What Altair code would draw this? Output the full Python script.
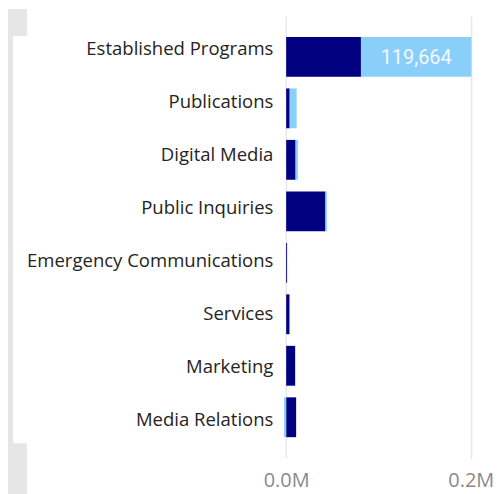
import altair as alt
import pandas as pd

categories = ["Established Programs", "Publications", "Digital Media", "Public Inquiries",
              "Emergency Communications", "Services", "Marketing", "Media Relations"]
series_a = [81000, 3800, 10200, 42500, 900, 3700, 9700, 10800]
series_b = [119664, 7500, 2500, 1600, 300, 400, 300, -2300]
series_names = ["Series A", "Series B"]
tick_values = [0, 200000]

rows = []
for i, c in enumerate(categories):
    rows.append({"category": c, "series": series_names[0], "order": 0, "value": series_a[i]})
    rows.append({"category": c, "series": series_names[1], "order": 1, "value": series_b[i]})
df = pd.DataFrame(rows)

labels_df = pd.DataFrame({"category": categories, "a": series_a, "b": series_b})

x_scale = alt.Scale(domain=[-2500, 201400], nice=False, zero=False)
bar_y_scale = alt.Scale(paddingInner=0.226, paddingOuter=0.407)

bars = alt.Chart(df).mark_bar(size=40).encode(
    x=alt.X("value:Q", stack="zero", scale=x_scale,
            axis=alt.Axis(title=None, values=tick_values, domain=False, ticks=False,
                          grid=True, gridColor="#e8e8e8", gridWidth=1.5,
                          labelExpr="format(datum.value/1e6, '.1f') + 'M'",
                          labelFont="Open Sans", labelFontSize=20, labelColor="#8a8a8a",
                          labelBaseline="alphabetic", labelPadding=28)),
    y=alt.Y("category:N", sort=categories, scale=bar_y_scale, axis=None),
    color=alt.Color("series:N", scale=alt.Scale(domain=series_names, range=["#000080", "#89CFFA"]),
                    legend=None),
    order=alt.Order("order:Q"),
)

text = alt.Chart(labels_df).transform_filter(
    alt.datum.b > 50000
).transform_calculate(
    mid="datum.a + datum.b / 2"
).mark_text(font="Roboto", fontSize=20, color="#f4f8ff", baseline="middle", align="center", dy=1).encode(
    x=alt.X("mid:Q", scale=x_scale),
    y=alt.Y("category:N", sort=categories, scale=bar_y_scale, axis=None),
    text=alt.Text("b:Q", format=","),
)

data_layers = alt.layer(bars, text)

label_axis = alt.Chart(labels_df).mark_point(opacity=0).encode(
    x=alt.value(0),
    y=alt.Y("category:N", sort=categories,
            scale=alt.Scale(type="point", padding=0.678, align=0.458),
            axis=alt.Axis(title=None, orient="left", domain=False, ticks=False, grid=False,
                          labelFont="Open Sans", labelFontSize=18.6, labelColor="#252423",
                          labelPadding=11, labelLimit=400, zindex=2)),
)

one = pd.DataFrame({"k": [0]})
gray = alt.Chart(one).mark_rect(color="#e6e6e6").encode(
    x=alt.value(-277), x2=alt.value(-258), y=alt.value(-7), y2=alt.value(480))
white = alt.Chart(one).mark_rect(color="#ffffff").encode(
    x=alt.value(-272), x2=alt.value(-257), y=alt.value(20), y2=alt.value(429))

chart = alt.layer(gray, white, data_layers, label_axis).resolve_scale(
    y="independent"
).properties(
    width=189, height=444,
    autosize=alt.AutoSizeParams(type="none"),
    padding={"left": 277, "top": 7, "right": 23, "bottom": 35},
    background="#ffffff",
).configure_view(stroke=None)

chart.save("out.html", embed_options={"renderer": "svg", "actions": False})
